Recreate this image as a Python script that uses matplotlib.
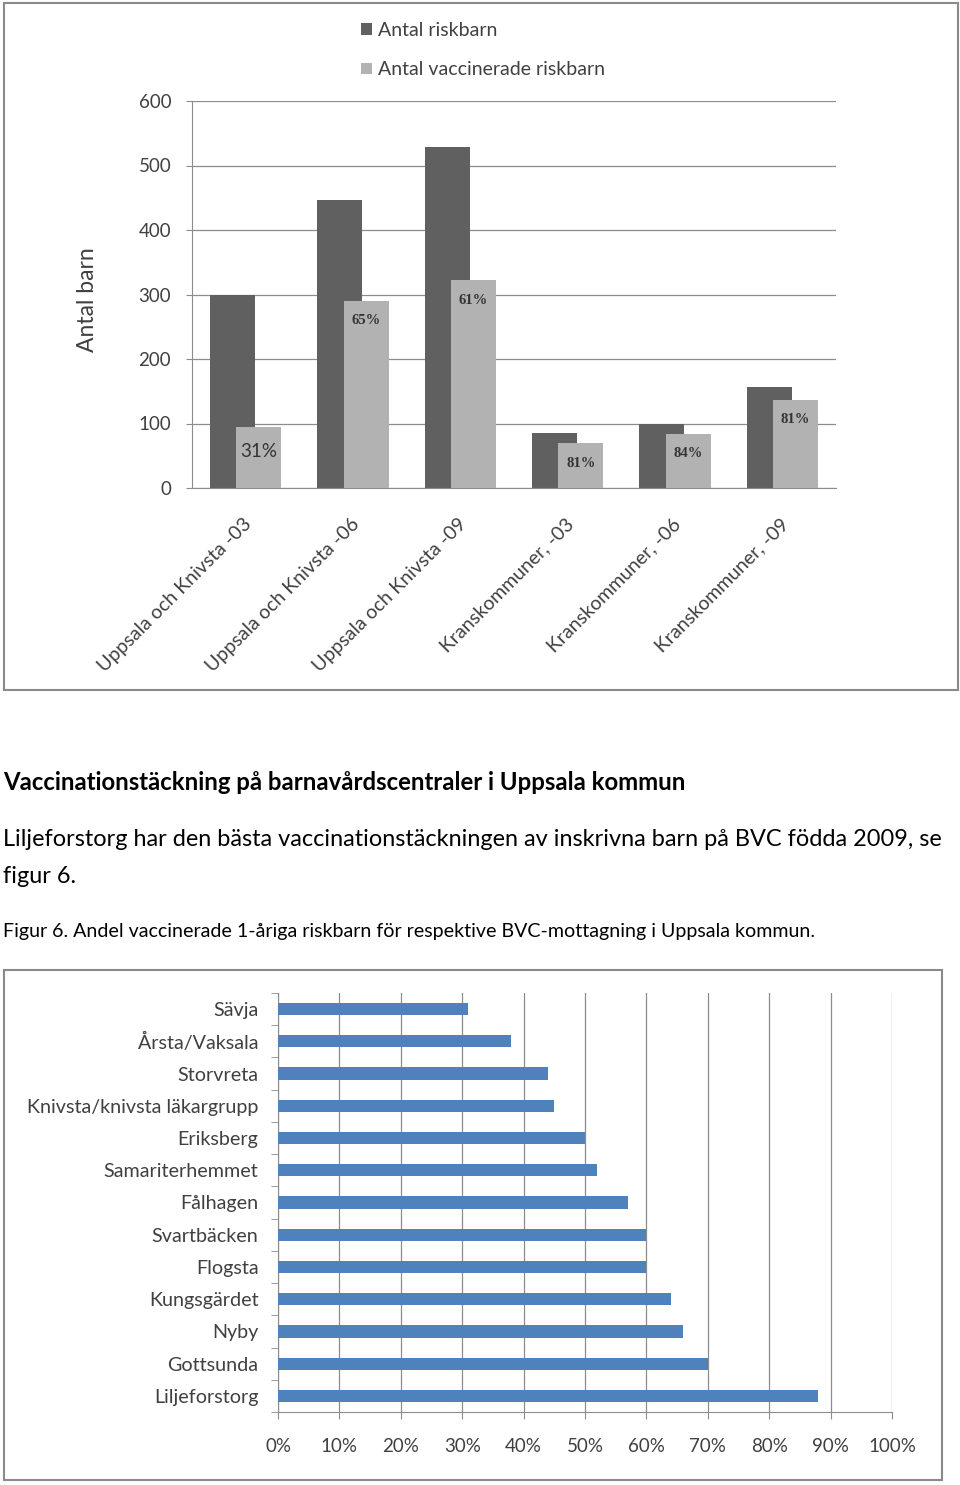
import numpy as np
import matplotlib.pyplot as plt
from matplotlib.patches import Rectangle
from matplotlib.ticker import FixedLocator

plt.rcParams['font.family'] = ['Lato', 'DejaVu Sans']

# figur 5: riskbarn per omrade och aargang
grupper = ['Uppsala och Knivsta -03', 'Uppsala och Knivsta -06', 'Uppsala och Knivsta -09',
           'Kranskommuner, -03', 'Kranskommuner, -06', 'Kranskommuner, -09']
riskbarn = [300, 446, 529, 85, 100, 156]
vaccinerade = [94, 290, 322, 69, 84, 137]
andel_txt = ['31%', '65%', '61%', '81%', '84%', '81%']
yticks_top = [0, 100, 200, 300, 400, 500, 600]

# figur 6: andel vaccinerade per BVC
bvc = ['Sävja', 'Årsta/Vaksala', 'Storvreta', 'Knivsta/knivsta läkargrupp', 'Eriksberg',
       'Samariterhemmet', 'Fålhagen', 'Svartbäcken', 'Flogsta', 'Kungsgärdet', 'Nyby',
       'Gottsunda', 'Liljeforstorg']
andel_bvc = [31, 38, 44, 45, 50, 52, 57, 60, 60, 64, 66, 70, 88]
xticks_bot = [0, 10, 20, 30, 40, 50, 60, 70, 80, 90, 100]

W, H = 960, 1485
fig = plt.figure(figsize=(W / 100, H / 100), dpi=100)

GRID = '#8c8c8c'
TXT = '#404040'


def px_rect(x0, y0, x1, y1):
    # pixel box (y from top) -> figure fraction
    return [x0 / W, 1 - y1 / H, (x1 - x0) / W, (y1 - y0) / H]


def frame(x0, y0, x1, y1):
    r = px_rect(x0, y0, x1, y1)
    fig.patches.append(Rectangle((r[0], r[1]), r[2], r[3], transform=fig.transFigure,
                                 fill=False, edgecolor='#8a8a8a', lw=1.5))


def fy(y):
    return 1 - y / H


# ---- top chart ----
frame(4, 3, 958, 690)
ax = fig.add_axes(px_rect(192, 101, 836, 488))
x = np.arange(len(grupper))
bw = 0.42
b1 = ax.bar(x - 0.122, riskbarn, width=bw, color='#606060', zorder=2, label='Antal riskbarn')
b2 = ax.bar(x + 0.122, vaccinerade, width=bw, color='#b2b2b2', zorder=3,
            label='Antal vaccinerade riskbarn')
for i, (v, t) in enumerate(zip(vaccinerade, andel_txt)):
    if i == 0:
        ax.text(x[i] + 0.122, v - 37, t, ha='center', va='center', fontsize=13.5,
                color='#333333', zorder=4)
    else:
        ax.text(x[i] + 0.122, v - 31, t, ha='center', va='center', fontsize=10.5,
                family='Liberation Serif', weight='bold', color='#333333', zorder=4)

ax.set_xlim(-0.5, len(grupper) - 0.5)
ax.set_ylim(0, 600)
ax.set_yticks(yticks_top)
ax.yaxis.grid(True, color=GRID, lw=0.9, zorder=0)
ax.set_axisbelow(True)
for s in ['top', 'right']:
    ax.spines[s].set_visible(False)
for s in ['left', 'bottom']:
    ax.spines[s].set_color(GRID)
ax.tick_params(axis='y', length=4, color=GRID, pad=11, labelsize=13.5, labelcolor=TXT)
ax.set_xticks(x + 0.03)
ax.set_xticklabels(grupper, rotation=45, ha='right', va='center', rotation_mode='anchor',
                   fontsize=14, color=TXT)
ax.tick_params(axis='x', length=0, pad=24)
fig.text(88 / W, fy(300), 'Antal barn', rotation=90, ha='center', va='center',
         fontsize=16.5, color=TXT)
ax.legend(handles=[b1, b2], loc='upper left', bbox_to_anchor=(361 / W, fy(22)),
          bbox_transform=fig.transFigure, frameon=False, fontsize=14, labelcolor=TXT,
          handlelength=0.55, handleheight=0.55, handletextpad=0.3, labelspacing=1.15,
          borderpad=0, borderaxespad=0)

# ---- text between the charts ----
fig.text(3 / W, fy(783), 'Vaccinationstäckning på barnavårdscentraler i Uppsala kommun',
         ha='left', va='center', fontsize=17.2, weight='bold', color='black')
fig.text(3 / W, fy(840), 'Liljeforstorg har den bästa vaccinationstäckningen av inskrivna '
         'barn på BVC födda 2009, se', ha='left', va='center', fontsize=16.9, color='black')
fig.text(3 / W, fy(877), 'figur 6.', ha='left', va='center', fontsize=16.9, color='black')
fig.text(3 / W, fy(931), 'Figur 6. Andel vaccinerade 1-åriga riskbarn för respektive '
         'BVC-mottagning i Uppsala kommun.', ha='left', va='center', fontsize=14.1,
         color='black')

# ---- bottom chart ----
frame(4, 970, 942, 1480)
bx = fig.add_axes(px_rect(278, 993, 892, 1412))
y = np.arange(len(bvc))
bx.barh(y, andel_bvc, height=0.38, color='#4f81bd', zorder=3)
bx.set_ylim(len(bvc) - 0.5, -0.5)
bx.set_xlim(0, 100)
bx.set_yticks(y)
bx.set_yticklabels(bvc, fontsize=14.2, color=TXT)
bx.yaxis.set_minor_locator(FixedLocator(np.arange(len(bvc) + 1) - 0.5))
bx.tick_params(axis='y', which='major', length=0, pad=14)
bx.tick_params(axis='y', which='minor', length=5, color=GRID)
bx.set_xticks(xticks_bot)
bx.set_xticklabels([f'{v}%' for v in xticks_bot], fontsize=13.5, color=TXT)
bx.tick_params(axis='x', length=5, color=GRID, pad=14)
bx.xaxis.grid(True, color=GRID, lw=0.9, zorder=0)
bx.set_axisbelow(True)
for s in ['top', 'right']:
    bx.spines[s].set_visible(False)
for s in ['left', 'bottom']:
    bx.spines[s].set_color(GRID)

fig.savefig('out.png', dpi=100)
